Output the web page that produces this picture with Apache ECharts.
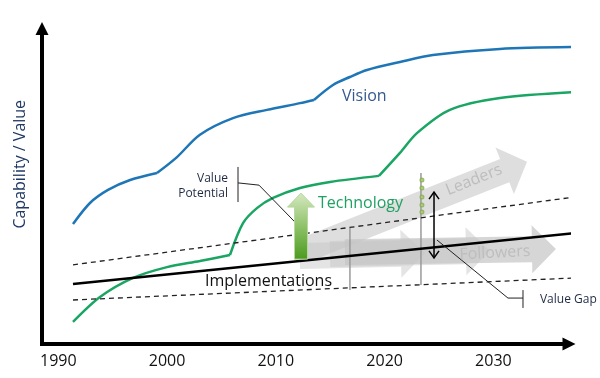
<!DOCTYPE html>
<html><head><meta charset="utf-8">
<script src="https://cdn.jsdelivr.net/npm/echarts@6/dist/echarts.min.js"></script>
<style>html,body{margin:0;padding:0;background:#fff}#c{width:600px;height:378px}</style>
</head><body><div id="c"></div><script>
// ---- data (years on x, capability/value on y) ----
const tickYears = [1990, 2000, 2010, 2020, 2030];
const vision = [[1991.35,37.6],[1992.91,44.2],[1994.57,48.3],[1996.6,51.4],[1999.07,53.6],
  [2000.91,58.6],[2003.02,65.6],[2006.06,70.8],[2009.18,73.4],[2012.22,75.5],[2013.5,76.5],
  [2015.25,81.2],[2016.8,83.7],[2018.38,85.9],[2021.41,88.4],[2024.44,90.6],[2030.6,92.5],[2037.5,93.1]];
const visionKinks = [1999.07, 2013.5];
const technology = [[1991.35,6.9],[1993.83,14.7],[1996.87,20.7],[1999.99,24.1],[2003.02,26.0],[2005.78,27.9],
  [2006.98,37.9],[2008.26,42.6],[2009.74,45.8],[2012.22,48.9],[2014.98,50.8],[2019.48,52.7],
  [2021.41,59.9],[2022.97,66.1],[2026.0,73.4],[2030.6,77.1],[2037.5,79.0]];
const technologyKinks = [2005.78, 2019.48];
const implementations = [[1991.35,18.8],[2037.5,34.8]];
const upperBand = [[1991.35,24.8],[2037.5,46.1]];
const lowerBand = [[1991.35,13.8],[2037.5,20.7]];
const gapMarkerA = [[2016.81,36.4],[2016.81,16.9]];
const gapMarkerB = [[2023.34,53.6],[2023.34,18.5]];
const valueDots = [[2023.43,51.4],[2023.43,48.9],[2023.43,46.1],[2023.43,43.6],[2023.43,41.4]];
const potentialArrow = [[2012.31,26.6,2012.31,47.3]];
const leadersArrow = [[2012.68,29.5,2033.09,57.1]];
const followersArrows = [[2012.2,27.6,2023.7,28.5],[2014.98,28.2,2029.68,29.2],[2016.35,28.8,2035.75,29.8]];
const gapArrow = [[2024.54,27.0,2024.54,47.6]];
const potentialPointer = [[2006.52,50.5],[2008.45,49.8],[2011.85,37.9]];
const potentialBracket = [[2006.52,55.5],[2006.52,44.5]];
const gapPointer = [[2024.81,32.6],[2031.34,14.4],[2032.72,14.4]];
const gapBracket = [[2032.72,16.9],[2032.72,11.3]];
const labelTexts = ['Vision','Technology','Implementations','Value','Potential','Value Gap','Leaders','Followers'];
const labelAnchors = [[2016.08,77.7],[2013.87,44.2],[2003.48,19.7],[2005.6,52.0],[2005.6,47.0],[2034.28,13.8],[2028.21,51.4],[2030.14,28.5]];

// ---- styles ----
const FONT = 'Open Sans';
const labelStyles = {
  'Vision': {fill:'#35598f', size:16, align:'left', rot:0},
  'Technology': {fill:'#1fa163', size:16, align:'left', rot:0},
  'Implementations': {fill:'#111', size:16, align:'left', rot:0},
  'Value': {fill:'#1f2a44', size:12, align:'right', rot:0},
  'Potential': {fill:'#1f2a44', size:12, align:'right', rot:0},
  'Value Gap': {fill:'#1f2a44', size:12, align:'left', rot:0},
  'Leaders': {fill:'#bdbdbd', size:16, align:'center', rot:0.38},
  'Followers': {fill:'#bdbdbd', size:16, align:'center', rot:0.05}
};

function splitAt(data, kinks){
  const segs=[]; let cur=[];
  data.forEach(p=>{ cur.push(p); if(kinks.indexOf(p[0])>=0){ segs.push(cur); cur=[p]; } });
  segs.push(cur); return segs;
}
function lineSeries(data, color, width, extra){
  return Object.assign({type:'line', data:data, smooth:0.3, showSymbol:false, silent:true, clip:false,
    lineStyle:{color:color, width:width}, z:5}, extra||{});
}
function arrowPoly(p1,p2,sw,hw,hl){
  const dx=p2[0]-p1[0], dy=p2[1]-p1[1], L=Math.hypot(dx,dy), ux=dx/L, uy=dy/L, nx=-uy, ny=ux;
  const bx=p2[0]-ux*hl, by=p2[1]-uy*hl;
  return [[p1[0]+nx*sw/2,p1[1]+ny*sw/2],[bx+nx*sw/2,by+ny*sw/2],[bx+nx*hw/2,by+ny*hw/2],[p2[0],p2[1]],
          [bx-nx*hw/2,by-ny*hw/2],[bx-nx*sw/2,by-ny*sw/2],[p1[0]-nx*sw/2,p1[1]-ny*sw/2]];
}
function arrowSeries(data, o){
  return {type:'custom', coordinateSystem:'cartesian2d', data:data, silent:true, clip:false, z:o.z,
    encode:{x:[0,2], y:[1,3]},
    renderItem:function(params, api){
      const p1=api.coord([api.value(0),api.value(1)]), p2=api.coord([api.value(2),api.value(3)]);
      const op = o.opacities ? o.opacities[params.dataIndex] : 1;
      return {type:'polygon', shape:{points:arrowPoly(p1,p2,o.sw,o.hw,o.hl)},
        style:{fill:o.fill, stroke:o.stroke||null, lineWidth:o.lw||0, opacity:op}};
    }};
}

const series = [];
// gray movement arrows (behind)
series.push(arrowSeries(leadersArrow,{sw:25,hw:50,hl:24,fill:'#dedede',z:1}));
series.push(arrowSeries(followersArrows,{sw:26,hw:48,hl:24,fill:'#c4c4c4',opacities:[0.45,0.45,0.7],z:1}));
// curves
splitAt(vision, visionKinks).forEach(s=>series.push(lineSeries(s,'#1f76b6',2.5)));
splitAt(technology, technologyKinks).forEach(s=>series.push(lineSeries(s,'#1aa563',2.5)));
series.push(lineSeries(implementations,'#000',2.5,{smooth:false}));
series.push(lineSeries(upperBand,'#222',1.3,{smooth:false, lineStyle:{color:'#222',width:1.3,type:[5,4]}}));
series.push(lineSeries(lowerBand,'#222',1.3,{smooth:false, lineStyle:{color:'#222',width:1.3,type:[5,4]}}));
series.push(lineSeries(gapMarkerA,'#9a9a9a',1.5,{smooth:false,z:3}));
series.push(lineSeries(gapMarkerB,'#9a9a9a',1.5,{smooth:false,z:3}));
// pointers & brackets
[potentialPointer, potentialBracket, gapPointer, gapBracket].forEach(d=>
  series.push(lineSeries(d,'#222',1,{smooth:false,z:6})));
// green dots
series.push({type:'scatter', data:valueDots, symbol:'emptyCircle', symbolSize:3, silent:true, clip:false,
  itemStyle:{color:'#86ad45', borderColor:'#86ad45', borderWidth:1}, z:6});
// value potential arrow
series.push(arrowSeries(potentialArrow,{sw:13,hw:27,hl:14,z:7,
  fill:new echarts.graphic.LinearGradient(0,0,0,1,[{offset:0,color:'#d6e9c2'},{offset:0.5,color:'#8fc26a'},{offset:1,color:'#4b9a1e'}]),
  stroke:'#b9d8a0', lw:1}));
// double arrow (value gap)
series.push({type:'custom', coordinateSystem:'cartesian2d', data:gapArrow, silent:true, clip:false, z:8,
  encode:{x:[0,2], y:[1,3]},
  renderItem:function(params, api){
    const a=api.coord([api.value(0),api.value(1)]), b=api.coord([api.value(2),api.value(3)]);
    const st={stroke:'#000', lineWidth:1.5, fill:null};
    return {type:'group', children:[
      {type:'line', shape:{x1:a[0],y1:a[1],x2:b[0],y2:b[1]}, style:st},
      {type:'polyline', shape:{points:[[b[0]-5,b[1]+7],[b[0],b[1]],[b[0]+5,b[1]+7]]}, style:st},
      {type:'polyline', shape:{points:[[a[0]-5,a[1]-7],[a[0],a[1]],[a[0]+5,a[1]-7]]}, style:st}
    ]};
  }});
// text labels
series.push({type:'custom', coordinateSystem:'cartesian2d', silent:true, clip:false, z:9,
  data: labelAnchors.map((p,i)=>[p[0],p[1],i]),
  encode:{x:0,y:1},
  renderItem:function(params, api){
    const p=api.coord([api.value(0),api.value(1)]);
    const t=labelTexts[api.value(2)], s=labelStyles[t];
    return {type:'text', x:p[0], y:p[1], rotation:s.rot,
      style:{text:t, fill:s.fill, fontSize:s.size, fontFamily:FONT, align:s.align, verticalAlign:'middle'}};
  }});

const chart = echarts.init(document.getElementById('c'), null, {renderer:'canvas'});
chart.setOption({
  animation:false,
  backgroundColor:'#fff',
  grid:{left:42, right:31, top:28.5, bottom:34, containLabel:false},
  xAxis:{type:'value', min:1988.5, max:2036.95,
    axisLine:{show:true, onZero:false, symbol:['none','triangle'], symbolSize:[13,13],
      lineStyle:{color:'#000', width:4, cap:'square'}},
    axisTick:{show:false}, splitLine:{show:false},
    axisLabel:{customValues:tickYears, formatter:v=>String(v), fontSize:16, fontFamily:FONT, color:'#111', margin:9}},
  yAxis:{type:'value', min:0, max:98.9,
    name:'Capability / Value', nameLocation:'middle', nameRotate:90, nameGap:14,
    nameTextStyle:{fontSize:16, fontFamily:FONT, color:'#203864', padding:[0,0,0,44]},
    axisLine:{show:true, onZero:false, symbol:['none','triangle'], symbolSize:[13,13],
      lineStyle:{color:'#000', width:4, cap:'square'}},
    axisTick:{show:false}, splitLine:{show:false}, axisLabel:{show:false}},
  series:series
});
</script></body></html>
